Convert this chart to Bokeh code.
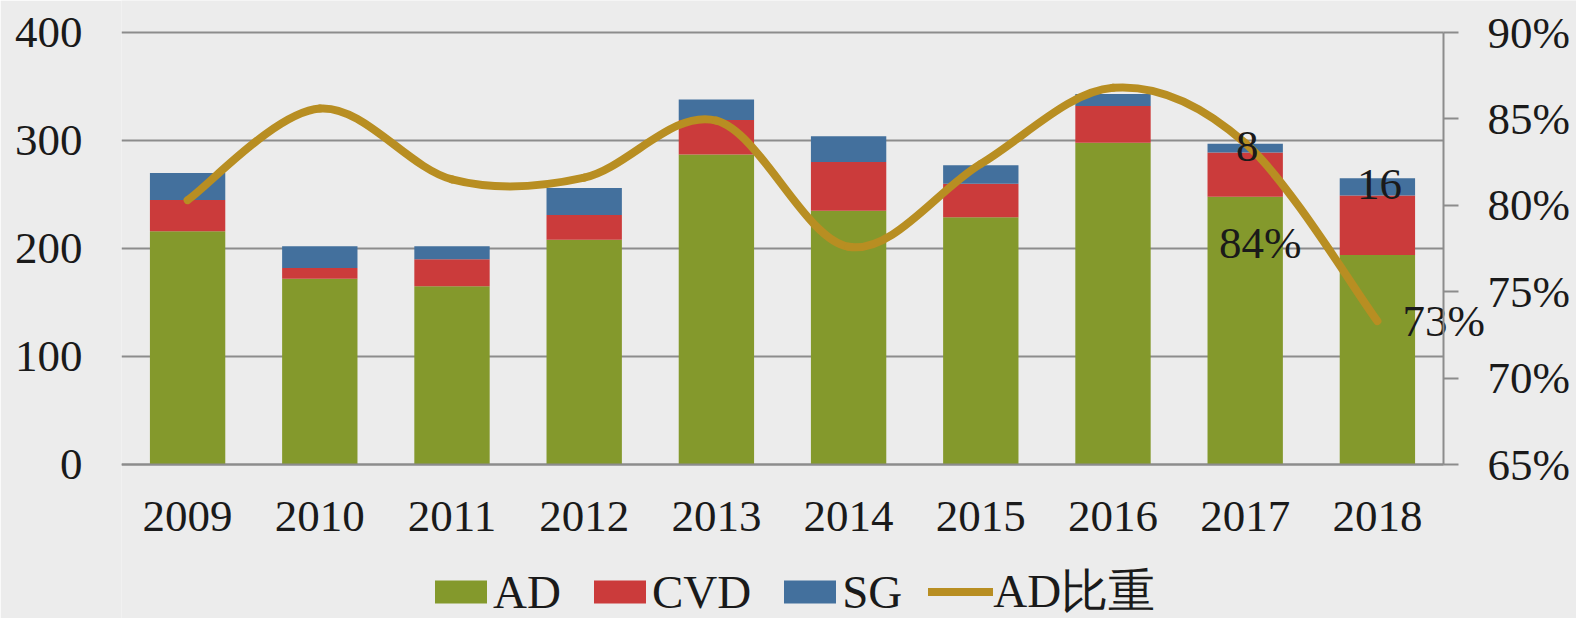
from bokeh.plotting import figure
from bokeh.models import ColumnDataSource, Range1d, LinearAxis, PrintfTickFormatter, Legend, LegendItem
from bokeh.core.properties import value
from bokeh.embed import file_html
from bokeh.resources import INLINE

years = ["2009", "2010", "2011", "2012", "2013", "2014", "2015", "2016", "2017", "2018"]
ad = [216, 172, 165, 208, 287, 235, 229, 298, 248, 194]
cvd = [29, 10, 25, 23, 32, 45, 31, 34, 41, 55]
sg = [25, 20, 12, 25, 19, 24, 17, 11, 8, 16]
ad_share = [80.3, 85.6, 81.5, 81.6, 84.9, 77.6, 82.4, 86.8, 83.6, 73.3]
left_ticks = [0, 100, 200, 300, 400]
right_ticks = [65, 70, 75, 80, 85, 90]

FONT = "Liberation Serif"
BG = "#ececec"
GRID = "#8c8c8c"
TXT = "#1a1a1a"
C_AD, C_CVD, C_SG, C_LINE = "#84992c", "#cb3b3b", "#43709d", "#b88e22"
FS = "45px"

# layout (pixels): plot area 1322 x 432 px starting at (121, 32); the frame is
# extended to the right, top and bottom edges so that the right axis labels,
# data labels and legend that share it are not clipped
W, H = 1576, 618
LEFT, PLOT_TOP = 121, 32
PLOT_W, PLOT_H = 1322, 432
FRAME_W, FRAME_H = W - LEFT, H
BELOW = H - PLOT_TOP - PLOT_H

n = len(years)
xs = list(range(1, n + 1))
x_lo, x_hi = xs[0] - 0.5, xs[-1] + 0.5
ymax = left_ticks[-1]
pmin, pmax = right_ticks[0], right_ticks[-1]
x_end = x_lo + (x_hi - x_lo) * FRAME_W / PLOT_W
y_start = -ymax * BELOW / PLOT_H
y_end = ymax + ymax * PLOT_TOP / PLOT_H
p_start = pmin - (pmax - pmin) * BELOW / PLOT_H
p_end = pmax + (pmax - pmin) * PLOT_TOP / PLOT_H

src = ColumnDataSource(dict(x=xs, AD=ad, CVD=cvd, SG=sg))

p = figure(width=W, height=H, output_backend="svg", toolbar_location=None,
           x_range=Range1d(x_lo, x_end), y_range=Range1d(y_start, y_end),
           min_border_left=LEFT, min_border_right=0, min_border_top=0, min_border_bottom=0)
p.extra_y_ranges = {"pct": Range1d(p_start, p_end)}
p.background_fill_color = BG
p.border_fill_color = BG
p.outline_line_color = None

# horizontal grid lines (stop at the right axis)
p.segment(x0=[x_lo] * len(left_ticks), y0=left_ticks, x1=[x_hi] * len(left_ticks), y1=left_ticks,
          line_color=GRID, line_width=2)

bars = p.vbar_stack(["AD", "CVD", "SG"], x="x", width=0.57, source=src,
                    color=[C_AD, C_CVD, C_SG], line_color=None)

# smoothed share line (Catmull-Rom -> cubic Bezier through the data points)
px, py = xs, ad_share
x0, y0, x1, y1, cx0, cy0, cx1, cy1 = [], [], [], [], [], [], [], []
for i in range(n - 1):
    a = max(i - 1, 0)
    d = min(i + 2, n - 1)
    x0.append(px[i]); y0.append(py[i]); x1.append(px[i + 1]); y1.append(py[i + 1])
    cx0.append(px[i] + (px[i + 1] - px[a]) / 6.0)
    cy0.append(py[i] + (py[i + 1] - py[a]) / 6.0)
    cx1.append(px[i + 1] - (px[d] - px[i]) / 6.0)
    cy1.append(py[i + 1] - (py[d] - py[i]) / 6.0)
line_r = p.bezier(x0=x0, y0=y0, x1=x1, y1=y1, cx0=cx0, cy0=cy0, cx1=cx1, cy1=cy1,
                  y_range_name="pct", line_color=C_LINE, line_width=8, line_cap="round")

# axes
p.xgrid.grid_line_color = None
p.ygrid.grid_line_color = None

p.yaxis.ticker = left_ticks
p.yaxis.axis_line_color = None
p.yaxis.major_tick_line_color = None
p.yaxis.minor_tick_line_color = None
p.yaxis.major_label_standoff = 33
p.yaxis.major_label_text_font = FONT
p.yaxis.major_label_text_font_size = FS
p.yaxis.major_label_text_color = TXT

p.xaxis.fixed_location = 0
p.xaxis.bounds = (x_lo, x_hi)
p.xaxis.ticker = xs
p.xaxis.major_label_overrides = {x: y for x, y in zip(xs, years)}
p.xaxis.axis_line_color = GRID
p.xaxis.axis_line_width = 2
p.xaxis.major_tick_line_color = None
p.xaxis.minor_tick_line_color = None
p.xaxis.major_label_standoff = 31
p.xaxis.major_label_text_font = FONT
p.xaxis.major_label_text_font_size = FS
p.xaxis.major_label_text_color = TXT

ra = LinearAxis(y_range_name="pct", ticker=right_ticks, formatter=PrintfTickFormatter(format="%d%%"),
                fixed_location=x_hi, bounds=(pmin, pmax))
ra.axis_line_color = GRID
ra.axis_line_width = 2
ra.major_tick_line_color = GRID
ra.major_tick_line_width = 2
ra.major_tick_out = 15
ra.major_tick_in = 0
ra.minor_tick_line_color = None
ra.major_label_standoff = 29
ra.major_label_text_font = FONT
ra.major_label_text_font_size = FS
ra.major_label_text_color = TXT
p.add_layout(ra, "right")

# data labels
i17, i18 = years.index("2017"), years.index("2018")
p.text(x=[xs[i17], xs[i18]],
       y=[ad[i17] + cvd[i17] + sg[i17] / 2, ad[i18] + cvd[i18] + sg[i18] / 2],
       text=[str(sg[i17]), str(sg[i18])], x_offset=2, y_offset=-2,
       text_font=value(FONT), text_font_size=FS, text_color=TXT,
       text_align="center", text_baseline="middle")
p.text(x=[xs[i17]], y=[ad_share[i17]], text=["%.0f%%" % ad_share[i17]],
       y_range_name="pct", x_offset=15, y_offset=100,
       text_font=value(FONT), text_font_size=FS, text_color=TXT,
       text_align="center", text_baseline="middle")
p.text(x=[xs[i18]], y=[ad_share[i18]], text=["%.0f%%" % ad_share[i18]],
       y_range_name="pct", x_offset=25, y_offset=0,
       text_font=value(FONT), text_font_size=FS, text_color=TXT,
       text_align="left", text_baseline="middle")

legend = Legend(items=[LegendItem(label="AD", renderers=[bars[0]]),
                       LegendItem(label="CVD", renderers=[bars[1]]),
                       LegendItem(label="SG", renderers=[bars[2]]),
                       LegendItem(label="AD比重", renderers=[line_r])],
                orientation="horizontal", location=(307, -5),
                background_fill_alpha=0, border_line_color=None,
                label_text_font=FONT, label_text_font_size="47px",
                label_text_color=TXT,
                glyph_width=65, glyph_height=29, label_standoff=0, spacing=26,
                padding=0, margin=0)
p.add_layout(legend, "center")

html = file_html(p, INLINE)
html = html.replace("<body>", '<body style="background:%s">' % BG, 1)
open("out.html", "w").write(html)
